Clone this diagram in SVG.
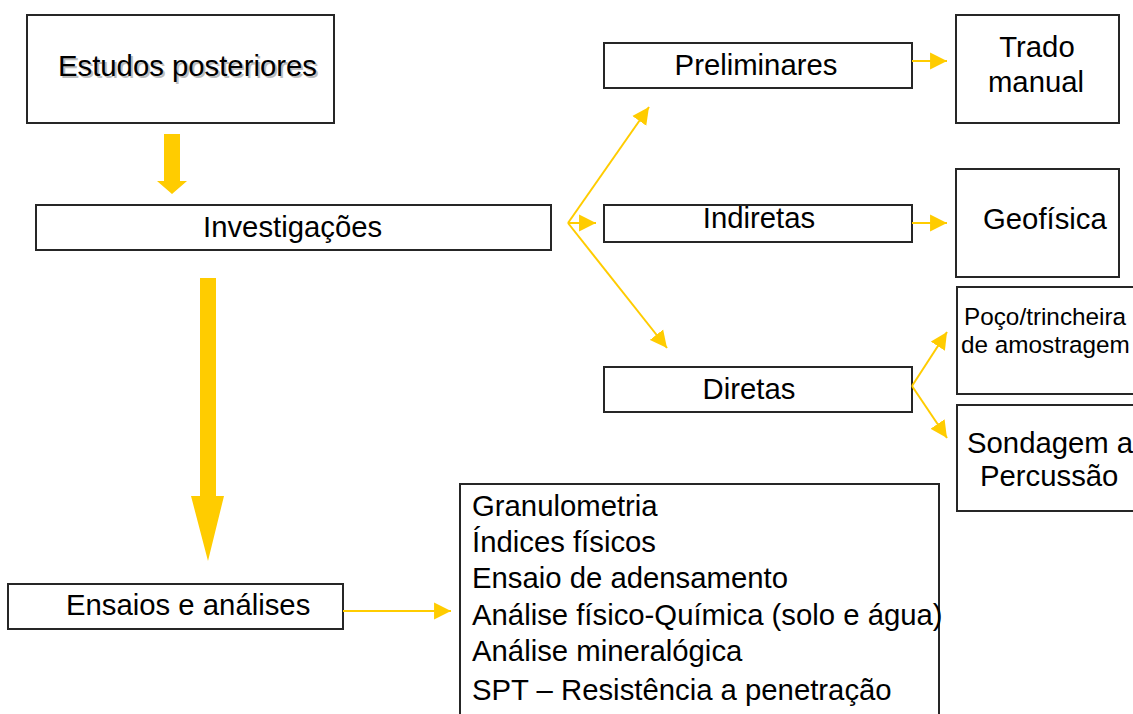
<svg xmlns="http://www.w3.org/2000/svg" width="1133" height="714" viewBox="0 0 1133 714">
<defs>
<style>
.box{fill:#fff;stroke:#262626;stroke-width:2}
.t{font-family:"Liberation Sans",Arial,sans-serif;font-size:29.3px;fill:#000}
.ts{font-family:"Liberation Sans",Arial,sans-serif;font-size:24.3px;fill:#000}
.c{fill:none;stroke:#FFCC00;stroke-width:2}
.big{fill:#FFCC00}
</style>
<marker id="ah" markerUnits="userSpaceOnUse" markerWidth="18" markerHeight="18" viewBox="0 0 17 16" refX="16" refY="8" orient="auto">
<path d="M0,0 L16,8 L0,16 Z" fill="#FFCC00"/>
</marker>
</defs>
<rect width="1133" height="714" fill="#fff"/>

<g id="estudos">
<rect class="box" x="27" y="15" width="307" height="108"/>
<text class="t" x="60" y="78" style="fill:#bdbdbd">Estudos posteriores</text>
<text class="t" x="58" y="76">Estudos posteriores</text>
</g>

<g id="investigacoes">
<rect class="box" x="36" y="205" width="515" height="45"/>
<text class="t" x="203" y="237">Investigações</text>
</g>

<g id="preliminares">
<rect class="box" x="604" y="43" width="308" height="45"/>
<text class="t" x="756" y="75" text-anchor="middle">Preliminares</text>
</g>

<g id="indiretas">
<rect class="box" x="604" y="205" width="308" height="37"/>
<text class="t" x="759" y="228" text-anchor="middle">Indiretas</text>
</g>

<g id="diretas">
<rect class="box" x="604" y="367" width="308" height="45"/>
<text class="t" x="749" y="399" text-anchor="middle">Diretas</text>
</g>

<g id="trado">
<rect class="box" x="956" y="15" width="163" height="108"/>
<text class="t" x="1037" y="57" text-anchor="middle">Trado</text>
<text class="t" x="1036" y="92" text-anchor="middle">manual</text>
</g>

<g id="geofisica">
<rect class="box" x="956" y="169" width="163" height="108"/>
<text class="t" x="983" y="229">Geofísica</text>
</g>

<g id="poco">
<rect class="box" x="957" y="287" width="190" height="107"/>
<text class="ts" x="964" y="325">Poço/trincheira</text>
<text class="ts" x="961" y="353">de amostragem</text>
</g>

<g id="sondagem">
<rect class="box" x="957" y="405" width="190" height="106"/>
<text class="t" x="967" y="453">Sondagem a</text>
<text class="t" x="980" y="486">Percussão</text>
</g>

<g id="ensaios">
<rect class="box" x="8" y="584" width="335" height="45"/>
<text class="t" x="66" y="615">Ensaios e análises</text>
</g>

<g id="lista">
<rect class="box" x="460" y="484" width="479" height="240"/>
<text class="t" x="472" y="516">Granulometria</text>
<text class="t" x="472" y="552">Índices físicos</text>
<text class="t" x="472" y="588">Ensaio de adensamento</text>
<text class="t" x="472" y="625">Análise físico-Química (solo e água)</text>
<text class="t" x="472" y="661">Análise mineralógica</text>
<text class="t" x="472" y="700">SPT – Resistência a penetração</text>
</g>

<g id="connectors">
<polygon class="big" points="164,134 180,134 180,181 187,181 172,194 157,181 164,181"/>
<polygon class="big" points="200,278 216,278 216,496 224,496 208,561 191,496 200,496"/>
<line class="c" x1="568" y1="223" x2="649" y2="107" marker-end="url(#ah)"/>
<line class="c" x1="568" y1="223" x2="596" y2="223" marker-end="url(#ah)"/>
<line class="c" x1="568" y1="223" x2="667" y2="348" marker-end="url(#ah)"/>
<line class="c" x1="912" y1="61" x2="947" y2="61" marker-end="url(#ah)"/>
<line class="c" x1="912" y1="223" x2="947" y2="223" marker-end="url(#ah)"/>
<line class="c" x1="912" y1="386" x2="947" y2="332" marker-end="url(#ah)"/>
<line class="c" x1="912" y1="386" x2="947" y2="438" marker-end="url(#ah)"/>
<line class="c" x1="343" y1="611" x2="451" y2="611" marker-end="url(#ah)"/>
</g>
</svg>
